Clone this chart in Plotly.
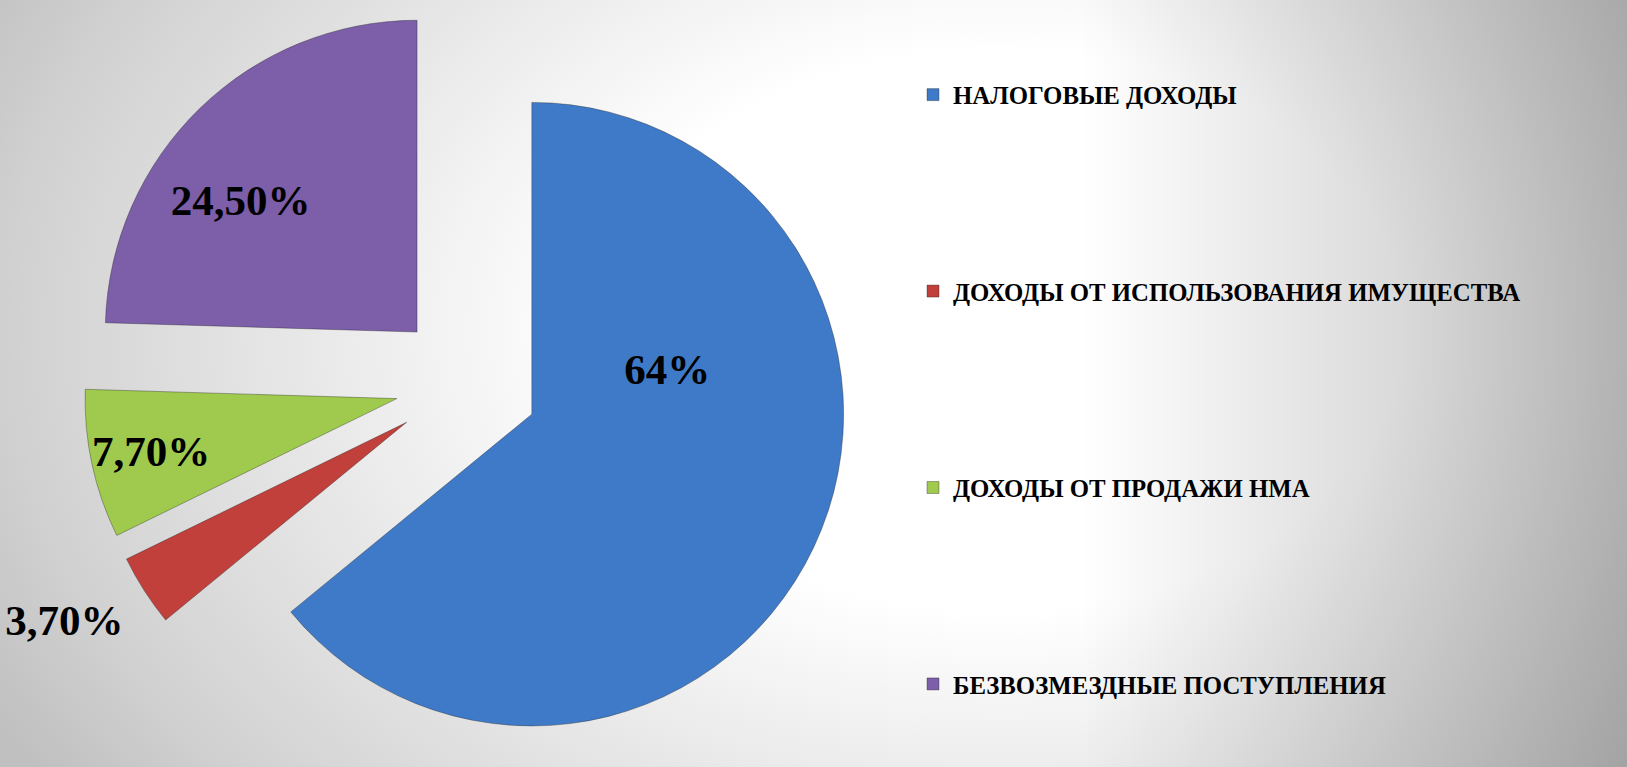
import plotly.graph_objects as go

# ---- data ----
categories = [
    "НАЛОГОВЫЕ ДОХОДЫ",
    "ДОХОДЫ ОТ ИСПОЛЬЗОВАНИЯ ИМУЩЕСТВА",
    "ДОХОДЫ ОТ ПРОДАЖИ НМА",
    "БЕЗВОЗМЕЗДНЫЕ ПОСТУПЛЕНИЯ",
]
values = [64.0, 3.7, 7.7, 24.5]
value_labels = ["64%", "3,70%", "7,70%", "24,50%"]

# ---- style ----
slice_colors = ["#3f7ac8", "#c1403b", "#9fca4e", "#7c5ea9"]
label_positions = ["inside", "outside", "inside", "inside"]
W, H = 1627, 767
SERIF = "Liberation Serif, Times New Roman, serif"

# legend labels followed by blank lines to reproduce the wide spacing
gap = "<br>" * 5
legend_labels = [c + (gap if i < len(categories) - 1 else "") for i, c in enumerate(categories)]

# invisible padding (non-breaking spaces / blank lines) nudges where slice labels sit
NB = "\u00a0"
small_nb = '<span style="font-size:20px">' + NB + "</span>"
label_prefix = ["", small_nb + "<br>", "", ""]
label_suffix = [NB + ("<br>" + NB) * 4, "", "", NB * 9]
slice_text = [p + t + s for p, t, s in zip(label_prefix, value_labels, label_suffix)]

fig = go.Figure()

# background: radial light centre + darker right side (decoration only)
bg_cx, bg_cy, bg_hw, bg_hh = 1000, 330, 1150, 800
fig.add_trace(go.Scatter(
    x=[bg_cx - bg_hw, bg_cx + bg_hw, bg_cx + bg_hw, bg_cx - bg_hw, bg_cx - bg_hw],
    y=[bg_cy - bg_hh, bg_cy - bg_hh, bg_cy + bg_hh, bg_cy + bg_hh, bg_cy - bg_hh],
    mode="lines", line=dict(width=0), fill="toself",
    fillgradient=dict(type="radial",
                      colorscale=[[0, "#ffffff"], [0.35, "#ffffff"], [0.85, "#d2d2d2"], [1, "#c0c0c0"]]),
    hoverinfo="skip", showlegend=False,
))
sh_x0, sh_x1 = 1080, W
fig.add_trace(go.Scatter(
    x=[sh_x0, sh_x1, sh_x1, sh_x0, sh_x0],
    y=[-10, -10, H + 10, H + 10, -10],
    mode="lines", line=dict(width=0), fill="toself",
    fillgradient=dict(type="horizontal",
                      colorscale=[[0, "rgba(0,0,0,0)"], [1, "rgba(0,0,0,0.25)"]]),
    hoverinfo="skip", showlegend=False,
))

fig.add_trace(go.Pie(
    labels=legend_labels,
    values=values,
    text=slice_text,
    textinfo="text",
    textposition=label_positions,
    insidetextorientation="horizontal",
    textfont=dict(family=SERIF, size=43, color="#000000", weight="bold"),
    marker=dict(colors=slice_colors, line=dict(color="rgba(30,30,30,0.35)", width=1)),
    pull=[0.23, 0.23, 0.23, 0.23],
    sort=False,
    direction="clockwise",
    rotation=0,
    domain=dict(x=[0, 934 / W], y=[0, 1]),
    hoverinfo="skip",
))

fig.update_layout(
    width=W, height=H,
    margin=dict(l=0, r=0, t=0, b=0, pad=0, autoexpand=False),
    paper_bgcolor="#ffffff",
    plot_bgcolor="rgba(0,0,0,0)",
    xaxis=dict(range=[0, W], visible=False, fixedrange=True),
    yaxis=dict(range=[H, 0], visible=False, fixedrange=True),
    uniformtext=dict(minsize=43, mode="show"),
    showlegend=True,
    legend=dict(
        x=913 / W, xanchor="left",
        y=1 - 72 / H, yanchor="top",
        valign="top",
        bgcolor="rgba(0,0,0,0)",
        font=dict(family=SERIF, size=24.8, color="#000000", weight="bold"),
        itemclick=False, itemdoubleclick=False,
        tracegroupgap=0,
    ),
)

page_fix = (
    "document.documentElement.style.margin='0';"
    "document.body.style.margin='0';"
    "document.documentElement.style.overflow='hidden';"
    "document.body.style.overflow='hidden';"
)
fig.write_html("out.html", post_script=page_fix, config={"displayModeBar": False})
